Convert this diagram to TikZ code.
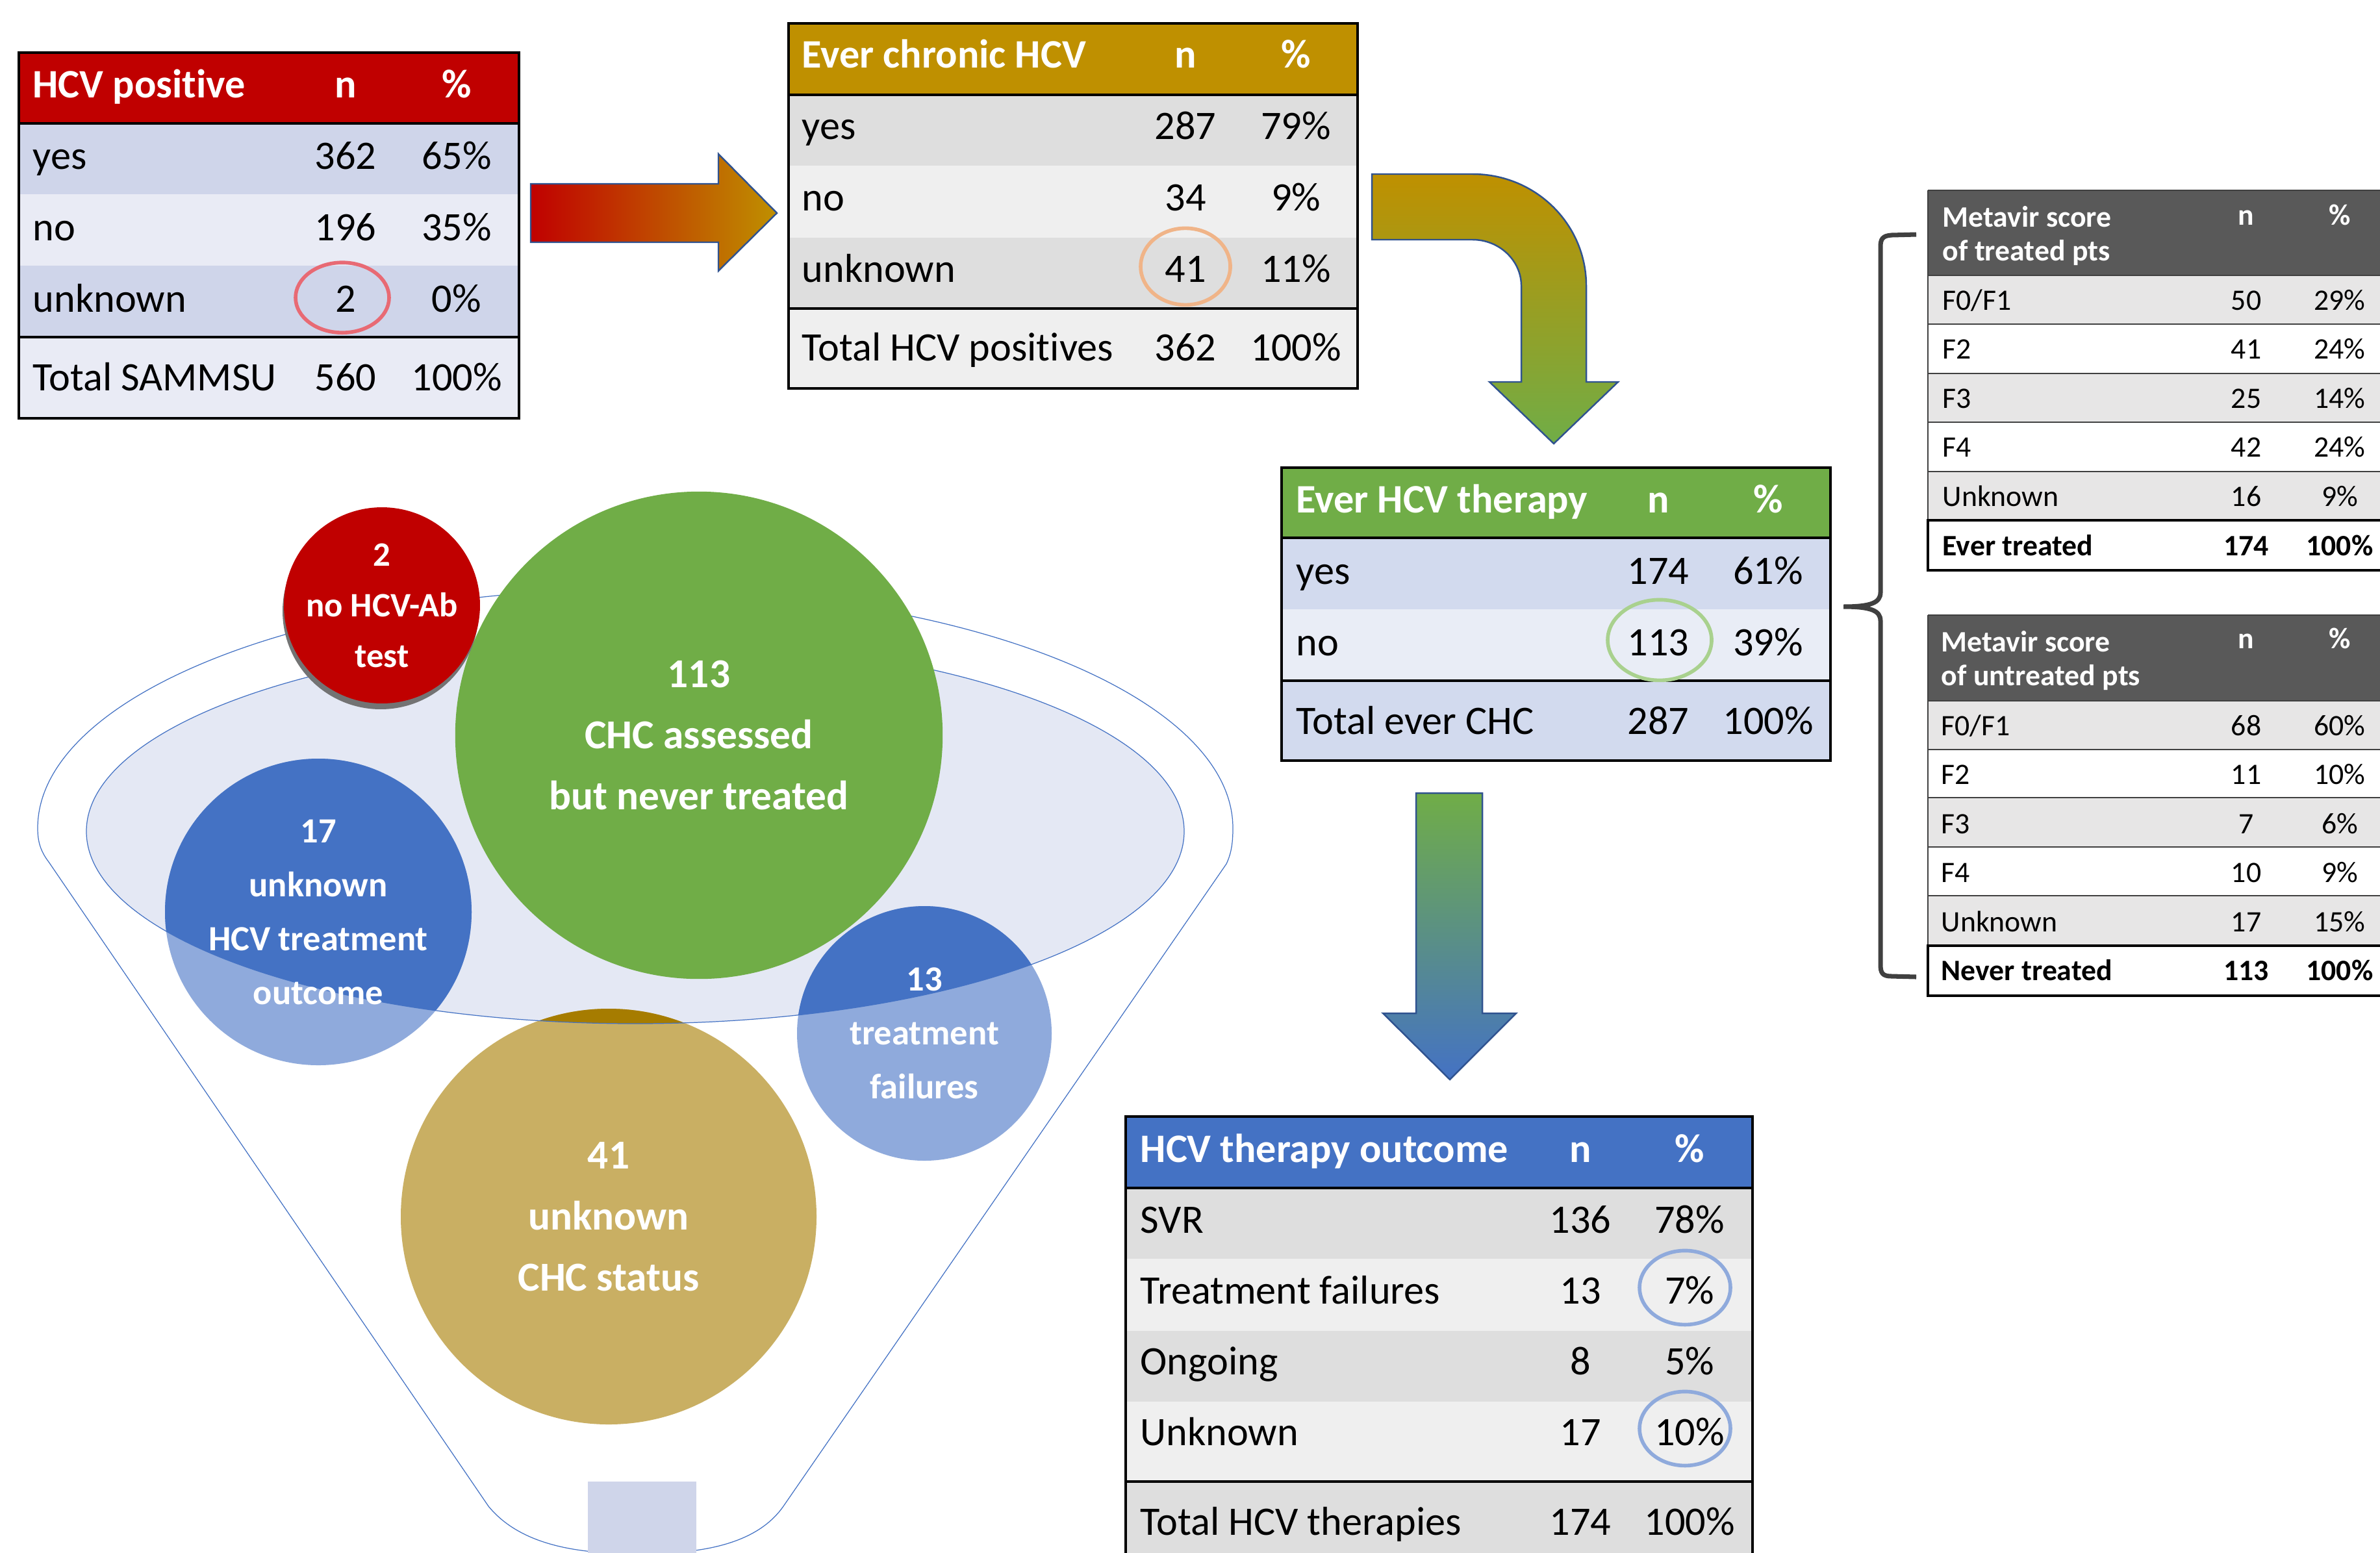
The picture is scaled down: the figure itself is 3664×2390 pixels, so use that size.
\documentclass[tikz,border=0pt]{standalone}
\usepackage{fontspec}
\setmainfont{Carlito}[Ligatures=NoCommon]
\usetikzlibrary{shadows}

\definecolor{hcvred}{HTML}{C00000}
\definecolor{hcvgold}{HTML}{BF9000}
\definecolor{hcvgreen}{HTML}{70AD47}
\definecolor{hcvblue}{HTML}{4472C4}
\definecolor{lightblue}{HTML}{8FAADC}
\definecolor{darkgold}{HTML}{A67C00}
\definecolor{lightgold}{HTML}{C9AF63}
\definecolor{rowblueA}{HTML}{CFD5EA}
\definecolor{rowblueB}{HTML}{E9EBF5}
\definecolor{rowthrA}{HTML}{D2DAEE}
\definecolor{rowthrB}{HTML}{E9EDF6}
\definecolor{rowgreyA}{HTML}{DEDEDE}
\definecolor{rowgreyB}{HTML}{EFEFEF}
\definecolor{metahead}{HTML}{595959}
\definecolor{metarow}{HTML}{E7E6E6}
\definecolor{funnelfill}{HTML}{E4E8F4}
\definecolor{arrowline}{HTML}{2F528F}
\definecolor{bracecol}{HTML}{404040}
\definecolor{ringred}{HTML}{E86A74}
\definecolor{ringorange}{HTML}{F0B488}
\definecolor{ringgreen}{HTML}{A9D18E}

\tikzset{
  cell/.style={inner sep=0pt, font=\fontsize{17.7}{20}\selectfont},
  lab/.style={cell, anchor=mid west},
  num/.style={cell, anchor=mid},
  hdr/.style={text=white, font=\fontsize{17.7}{20}\selectfont\bfseries},
  tabframe/.style={line width=1.3pt},
  ring/.style={line width=1.6pt},
  scell/.style={inner sep=0pt, font=\fontsize{13}{14.8}\selectfont},
  slab/.style={scell, anchor=mid west},
  snum/.style={scell, anchor=mid},
  sbold/.style={font=\fontsize{13}{14.8}\selectfont\bfseries},
  metaline/.style={draw=bracecol, line width=0.45pt},
  metatot/.style={draw=black, line width=0.9pt},
  blockarrow/.style={draw=arrowline, line width=0.7pt},
  funnelline/.style={draw=hcvblue, line width=0.35pt},
  bubble/.style={circle, inner sep=0pt, text=white, align=center},
}

\begin{document}
\begin{tikzpicture}[x=0.01cm, y=-0.01cm]
\useasboundingbox (0,0) rectangle (3664,2390);

% HCV positive
\fill[hcvred] (29,81) rectangle (799,190);
\fill[rowblueA] (29,190) rectangle (799,299);
\fill[rowblueB] (29,299) rectangle (799,409);
\fill[rowblueA] (29,409) rectangle (799,519);
\fill[rowblueB] (29,519) rectangle (799,644);
\draw[tabframe] (29,81) rectangle (799,644) (29,190) -- (799,190) (29,519) -- (799,519);
\node[lab, hdr] (pos-h) at (50,142) {HCV positive};
\node[num, hdr] (pos-hn) at (532,142) {n};
\node[num, hdr] (pos-hp) at (703,142) {\%};
\foreach \lab/\cnt/\pct [count=\i] in {yes/362/65\%, no/196/35\%, unknown/2/0\%}{
  \node[lab] (pos-\i) at (50,142+110*\i) {\lab};
  \node[num] (pos-\i-n) at (532,142+110*\i) {\cnt};
  \node[num] (pos-\i-p) at (703,142+110*\i) {\pct};
}
\node[lab] (pos-t) at (50,593) {Total SAMMSU};
\node[num] (pos-t-n) at (532,593) {560};
\node[num] (pos-t-p) at (703,593) {100\%};
\draw[ring, draw=ringred] ([shift={(-5,-2)}]pos-3-n.center) ellipse [x radius=72, y radius=54];

% Ever chronic HCV
\fill[hcvgold] (1214,36) rectangle (2090,146);
\fill[rowgreyA] (1214,146) rectangle (2090,255);
\fill[rowgreyB] (1214,255) rectangle (2090,366);
\fill[rowgreyA] (1214,366) rectangle (2090,475);
\fill[rowgreyB] (1214,475) rectangle (2090,598);
\draw[tabframe] (1214,36) rectangle (2090,598) (1214,146) -- (2090,146) (1214,475) -- (2090,475);
\node[lab, hdr] (chr-h) at (1234,96) {Ever chronic HCV};
\node[num, hdr] (chr-hn) at (1825,96) {n};
\node[num, hdr] (chr-hp) at (1995,96) {\%};
\foreach \lab/\cnt/\pct [count=\i] in {yes/287/79\%, no/34/9\%, unknown/41/11\%}{
  \node[lab] (chr-\i) at (1234,96+110*\i) {\lab};
  \node[num] (chr-\i-n) at (1825,96+110*\i) {\cnt};
  \node[num] (chr-\i-p) at (1995,96+110*\i) {\pct};
}
\node[lab] (chr-t) at (1234,547) {Total HCV positives};
\node[num] (chr-t-n) at (1825,547) {362};
\node[num] (chr-t-p) at (1995,547) {100\%};
\draw[ring, draw=ringorange] ([shift={(0,-4)}]chr-3-n.center) ellipse [x radius=69, y radius=59];

% Ever HCV therapy
\fill[hcvgreen] (1973,720) rectangle (2818,828);
\fill[rowthrA] (1973,828) rectangle (2818,938);
\fill[rowthrB] (1973,938) rectangle (2818,1048);
\fill[rowthrA] (1973,1048) rectangle (2818,1171);
\draw[tabframe] (1973,720) rectangle (2818,1171) (1973,828) -- (2818,828) (1973,1048) -- (2818,1048);
\node[lab, hdr] (thr-h) at (1995,781) {Ever HCV therapy};
\node[num, hdr] (thr-hn) at (2553,781) {n};
\node[num, hdr] (thr-hp) at (2722,781) {\%};
\foreach \lab/\cnt/\pct [count=\i] in {yes/174/61\%, no/113/39\%}{
  \node[lab] (thr-\i) at (1995,781+110*\i) {\lab};
  \node[num] (thr-\i-n) at (2553,781+110*\i) {\cnt};
  \node[num] (thr-\i-p) at (2722,781+110*\i) {\pct};
}
\node[lab] (thr-t) at (1995,1122) {Total ever CHC};
\node[num] (thr-t-n) at (2553,1122) {287};
\node[num] (thr-t-p) at (2722,1122) {100\%};
\draw[ring, draw=ringgreen] ([shift={(2,-4)}]thr-2-n.center) ellipse [x radius=80, y radius=62];

% HCV therapy outcome
\fill[hcvblue] (1733,1719) rectangle (2698,1829);
\fill[rowgreyA] (1733,1829) rectangle (2698,1938);
\fill[rowgreyB] (1733,1938) rectangle (2698,2049);
\fill[rowgreyA] (1733,2049) rectangle (2698,2158);
\fill[rowgreyB] (1733,2158) rectangle (2698,2281);
\fill[rowgreyA] (1733,2281) rectangle (2698,2420);
\draw[tabframe] (1733,2420) -- (1733,1719) -- (2698,1719) -- (2698,2420) (1733,1829) -- (2698,1829) (1733,2281) -- (2698,2281);
\node[lab, hdr] (out-h) at (1755,1781) {HCV therapy outcome};
\node[num, hdr] (out-hn) at (2433,1781) {n};
\node[num, hdr] (out-hp) at (2601,1781) {\%};
\foreach \lab/\cnt/\pct [count=\i] in {SVR/136/78\%, Treatment failures/13/7\%, Ongoing/8/5\%, Unknown/17/10\%}{
  \node[lab] (out-\i) at (1755,1781+109*\i) {\lab};
  \node[num] (out-\i-n) at (2433,1781+109*\i) {\cnt};
  \node[num] (out-\i-p) at (2601,1781+109*\i) {\pct};
}
\node[lab] (out-t) at (1755,2355) {Total HCV therapies};
\node[num] (out-t-n) at (2433,2355) {174};
\node[num] (out-t-p) at (2601,2355) {100\%};
\draw[ring, draw=lightblue] ([shift={(-7,-4)}]out-2-p.center) ellipse [x radius=70, y radius=57];
\draw[ring, draw=lightblue] ([shift={(-7,-5)}]out-4-p.center) ellipse [x radius=70, y radius=57];

% Metavir, treated
\fill[metahead] (2968,293) rectangle (3700,424);
\foreach \y in {424,575,726} \fill[metarow] (2968,\y) rectangle (3700,\y+75.5);
\foreach \y in {424,499,575,650,726} \draw[metaline] (2968,\y) -- (3700,\y);
\draw[metaline] (2968,293) -- (3700,293) (2968,293) -- (2968,801);
\draw[metatot] (3700,801) -- (2968,801) -- (2968,878) -- (3700,878);
\node[slab, hdr, sbold, align=left, anchor=west] (trt-h) at (2990,363) {Metavir score\\of treated pts};
\node[snum, hdr, sbold] (trt-hn) at (3458,338) {n};
\node[snum, hdr, sbold] (trt-hp) at (3602,338) {\%};
\foreach \lab/\cnt/\pct [count=\i] in {F0\slash F1/50/29\%, F2/41/24\%, F3/25/14\%, F4/42/24\%, Unknown/16/9\%}{
  \node[slab] (trt-\i) at (2990,393+75.6*\i) {\lab};
  \node[snum] (trt-\i-n) at (3458,393+75.6*\i) {\cnt};
  \node[snum] (trt-\i-p) at (3602,393+75.6*\i) {\pct};
}
\node[slab, sbold] (trt-t) at (2990,847) {Ever treated};
\node[snum, sbold] (trt-t-n) at (3458,847) {174};
\node[snum, sbold] (trt-t-p) at (3602,847) {100\%};

% Metavir, untreated
\fill[metahead] (2968,947) rectangle (3700,1079);
\foreach \y in {1079,1228,1379} \fill[metarow] (2968,\y) rectangle (3700,\y+75.5);
\foreach \y in {1079,1154,1228,1304,1379} \draw[metaline] (2968,\y) -- (3700,\y);
\draw[metaline] (2968,947) -- (3700,947) (2968,947) -- (2968,1456);
\draw[metatot] (3700,1456) -- (2968,1456) -- (2968,1533) -- (3700,1533);
\node[slab, hdr, sbold, align=left, anchor=west] (unt-h) at (2988,1017) {Metavir score\\of untreated pts};
\node[snum, hdr, sbold] (unt-hn) at (3458,990) {n};
\node[snum, hdr, sbold] (unt-hp) at (3602,990) {\%};
\foreach \lab/\cnt/\pct [count=\i] in {F0\slash F1/68/60\%, F2/11/10\%, F3/7/6\%, F4/10/9\%, Unknown/17/15\%}{
  \node[slab] (unt-\i) at (2988,1048+75.6*\i) {\lab};
  \node[snum] (unt-\i-n) at (3458,1048+75.6*\i) {\cnt};
  \node[snum] (unt-\i-p) at (3602,1048+75.6*\i) {\pct};
}
\node[slab, sbold] (unt-t) at (2988,1501) {Never treated};
\node[snum, sbold] (unt-t-n) at (3458,1501) {113};
\node[snum, sbold] (unt-t-p) at (3602,1501) {100\%};

% brace
\draw[bracecol, line width=2pt] (2950,361) -- (2912,362) .. controls (2898,363) and (2895,368) .. (2895,380) -- (2895,912) .. controls (2895,928) and (2880,934) .. (2838,934) .. controls (2880,934) and (2895,940) .. (2895,956) -- (2895,1485) .. controls (2895,1498) and (2898,1503) .. (2912,1503) -- (2950,1504);

% block arrows
\draw[blockarrow, left color=hcvred, right color=hcvgold] (817,283) -- (1106,283) -- (1106,237) -- (1196,328) -- (1106,417) -- (1106,373) -- (817,373) -- cycle;
\draw[blockarrow, top color=hcvgold, bottom color=hcvgreen] (2112,268) -- (2267,268) .. controls (2364,268) and (2442,345) .. (2442,440) -- (2442,588) -- (2491,588) -- (2392,683) -- (2293,588) -- (2342,588) -- (2342,440) .. controls (2342,401) and (2308,369) .. (2267,369) -- (2112,369) -- cycle;
\draw[blockarrow, top color=hcvgreen, bottom color=hcvblue] (2180,1221) -- (2282,1221) -- (2282,1560) -- (2334,1560) -- (2232,1662) -- (2129,1560) -- (2180,1560) -- cycle;

% funnel
\draw[funnelline, fill=white] (58,1275) .. controls (58,1072) and (470,907) .. (978,907) .. controls (1486,907) and (1898,1072) .. (1898,1275) .. controls (1898,1300) and (1895,1315) .. (1888,1330) -- (1206,2319) .. controls (1160,2385) and (1060,2392) .. (983,2392) .. controls (906,2392) and (806,2385) .. (752,2319) -- (75,1327) .. controls (62,1310) and (58,1295) .. (58,1275) -- cycle;
\fill[funnelfill] (978,1280) ellipse [x radius=845, y radius=296];
\fill[rowblueA] (905,2281) rectangle (1072,2420);

\fill[lightblue] (490,1404) circle [radius=236];
\fill[lightblue] (1423,1591) circle [radius=196];
\fill[lightgold] (937,1873) circle [radius=320];
\begin{scope}
  \clip (978,1280) ellipse [x radius=845, y radius=296];
  \fill[hcvblue] (490,1404) circle [radius=236];
  \fill[hcvblue] (1423,1591) circle [radius=196];
  \fill[darkgold] (937,1873) circle [radius=320];
\end{scope}
\draw[funnelline] (978,1280) ellipse [x radius=845, y radius=296];

\node[bubble, font=\fontsize{15.5}{23.6}\selectfont\bfseries] (unk17) at (490,1404) {17\\unknown\\HCV treatment\\outcome};
\node[bubble, font=\fontsize{15.5}{23.6}\selectfont\bfseries] (fail13) at (1423,1591) {13\\treatment\\failures};
\node[bubble, font=\fontsize{18}{26.7}\selectfont\bfseries] (unk41) at (937,1873) {41\\unknown\\CHC status};
\node[bubble, fill=hcvgreen, minimum size=7.5cm, font=\fontsize{18}{26.7}\selectfont\bfseries] (never) at (1076,1132) {113\\CHC assessed\\but never treated};
\node[bubble, fill=hcvred, minimum size=2.68cm, font=\fontsize{15}{22.2}\selectfont\bfseries,
  drop shadow={shadow xshift=-0.2mm, shadow yshift=-0.9mm, fill=black!55, opacity=1}] (noab) at (588,932) {2\\no HCV-Ab\\test};
\end{tikzpicture}
\end{document}
